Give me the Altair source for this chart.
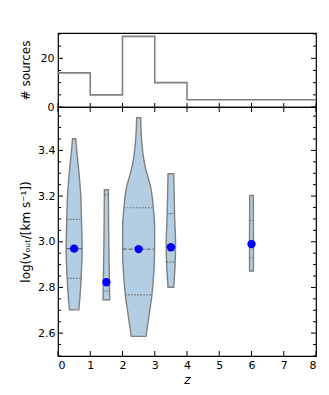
import altair as alt
import pandas as pd
import numpy as np

# ---- data ----
bin_edges = [0, 1, 2, 3, 4, 8]
counts = [14, 5, 29, 10, 3]

violin_z = [0.5, 1.5, 2.5, 3.5, 6.0]
violin_levels = [
    [2.702, 2.758, 2.845, 2.97, 3.095, 3.195, 3.27, 3.34, 3.40, 3.451],
    [2.746, 3.0, 3.228],
    [2.586, 2.67, 2.768, 2.875, 2.97, 3.064, 3.149, 3.24, 3.283, 3.327, 3.38, 3.429, 3.50, 3.543],
    [2.801, 2.869, 2.911, 2.985, 3.123, 3.298],
    [2.872, 3.0, 3.203],
]
violin_halfwidth = [
    [0.144, 0.181, 0.217, 0.248, 0.228, 0.208, 0.17, 0.124, 0.08, 0.051],
    [0.103, 0.075, 0.062],
    [0.227, 0.315, 0.413, 0.475, 0.496, 0.496, 0.455, 0.372, 0.29, 0.207, 0.14, 0.103, 0.07, 0.062],
    [0.088, 0.119, 0.134, 0.145, 0.114, 0.088],
    [0.06, 0.062, 0.055],
]
quart_low = [2.84, 2.784, 2.768, 2.911, 2.93]
quart_med = [2.97, 2.823, 2.968, 2.976, 2.99]
quart_high = [3.098, 3.206, 3.149, 3.123, 3.093]
dot_y = [2.97, 2.823, 2.968, 2.976, 2.99]

x_ticks = [0, 1, 2, 3, 4, 5, 6, 7, 8]
y_major = [2.6, 2.8, 3.0, 3.2, 3.4]
y_minor = [2.5, 2.55, 2.65, 2.7, 2.75, 2.85, 2.9, 2.95, 3.05, 3.1, 3.15, 3.25, 3.3, 3.35, 3.45, 3.5, 3.55]
h_major = [0, 20]
h_minor = [5, 10, 15, 25, 30]

W, H_TOP, H_BOT = 258, 74, 249
FILL = "#b3cee2"
EDGE = "#808080"
LINE = "#6e6e6e"

xs = alt.Scale(domain=[0, 8], nice=False, zero=False)
ys = alt.Scale(domain=[2.5, 3.59], nice=False, zero=False)
hs = alt.Scale(domain=[0, 30.4], nice=False, zero=False)

AX_COMMON = dict(ticks=False, tickSize=0, domain=False, grid=False)
x_top_axis = None
h_axis = alt.Axis(values=h_major, title="# sources", labelPadding=4, titlePadding=8, **AX_COMMON)
x_bot_axis = alt.Axis(values=x_ticks, format="d", title="z", labelPadding=3,
                      titleFontStyle="italic", titlePadding=4, **AX_COMMON)
y_axis = alt.Axis(values=y_major, format=".1f", title="log(vₒᵤₜ/[km s⁻¹])",
                  labelPadding=3, titlePadding=5, **AX_COMMON)

# ---- tables ----
hist_df = pd.DataFrame({"z": bin_edges, "n": counts + [counts[-1]]})

rows = []
for g, (zc, lv, hw) in enumerate(zip(violin_z, violin_levels, violin_halfwidth)):
    for yv, w in zip(lv, hw):
        rows.append({"g": g, "y": yv, "left": zc - w, "right": zc + w})
vdf = pd.DataFrame(rows).sort_values(["g", "y"]).reset_index(drop=True)

qrows = []
for g, zc in enumerate(violin_z):
    lv, hw = violin_levels[g], violin_halfwidth[g]
    for kind, q in (("q", quart_low[g]), ("m", quart_med[g]), ("q", quart_high[g])):
        w = float(np.interp(q, lv, hw))
        qrows.append({"kind": kind, "y": q, "left": zc - w, "right": zc + w})
qdf = pd.DataFrame(qrows)
dots_df = pd.DataFrame({"z": violin_z, "y": dot_y})


def xtick_rules(scale, axis, H, top, bottom, length=5):
    df = pd.DataFrame({"v": x_ticks})
    layers = []
    if bottom:
        layers.append(alt.Chart(df).mark_rule(color="black", strokeWidth=1).encode(
            x=alt.X("v:Q", scale=scale, axis=axis), y=alt.value(H), y2=alt.value(H - length)))
    if top:
        layers.append(alt.Chart(df).mark_rule(color="black", strokeWidth=1).encode(
            x=alt.X("v:Q", scale=scale, axis=axis), y=alt.value(0), y2=alt.value(length)))
    return layers


def ytick_rules(values, scale, axis, length):
    df = pd.DataFrame({"v": values})
    return [
        alt.Chart(df).mark_rule(color="black", strokeWidth=1).encode(
            y=alt.Y("v:Q", scale=scale, axis=axis), x=alt.value(0), x2=alt.value(length)),
        alt.Chart(df).mark_rule(color="black", strokeWidth=1).encode(
            y=alt.Y("v:Q", scale=scale, axis=axis), x=alt.value(W), x2=alt.value(W - length)),
    ]


# ---- top panel ----
hist = alt.Chart(hist_df).mark_line(interpolate="step-after", color=EDGE, strokeWidth=1.6).encode(
    x=alt.X("z:Q", scale=xs, axis=x_top_axis),
    y=alt.Y("n:Q", scale=hs, axis=h_axis),
)
top = alt.layer(
    hist,
    *xtick_rules(xs, x_top_axis, H_TOP, top=False, bottom=True, length=4),
    *ytick_rules(h_major, hs, h_axis, 5),
    *ytick_rules(h_minor, hs, h_axis, 3),
).properties(width=W, height=H_TOP)

# ---- bottom panel ----
violins = alt.Chart(vdf).mark_area(orient="horizontal", interpolate="monotone", fill=FILL,
                                   stroke=EDGE, strokeWidth=1.4, opacity=1).encode(
    y=alt.Y("y:Q", scale=ys, axis=y_axis),
    x=alt.X("left:Q", scale=xs, axis=x_bot_axis),
    x2="right:Q",
    detail="g:N",
)
qlines = alt.Chart(qdf[qdf.kind == "q"]).mark_rule(color=LINE, strokeWidth=1.2, strokeDash=[1.5, 1.5]).encode(
    y=alt.Y("y:Q", scale=ys, axis=y_axis), x=alt.X("left:Q", scale=xs, axis=x_bot_axis), x2="right:Q")
mlines = alt.Chart(qdf[qdf.kind == "m"]).mark_rule(color=LINE, strokeWidth=1.4, strokeDash=[4, 2]).encode(
    y=alt.Y("y:Q", scale=ys, axis=y_axis), x=alt.X("left:Q", scale=xs, axis=x_bot_axis), x2="right:Q")
dots = alt.Chart(dots_df).mark_circle(color="#0000ff", opacity=1, size=70).encode(
    x=alt.X("z:Q", scale=xs, axis=x_bot_axis), y=alt.Y("y:Q", scale=ys, axis=y_axis))

bottom = alt.layer(
    violins, qlines, mlines, dots,
    *xtick_rules(xs, x_bot_axis, H_BOT, top=True, bottom=True, length=5),
    *ytick_rules(y_major, ys, y_axis, 5),
    *ytick_rules(y_minor, ys, y_axis, 3),
).properties(width=W, height=H_BOT)

chart = alt.vconcat(top, bottom, spacing=0, bounds="flush").properties(
    padding={"left": 10, "top": 24, "right": 0, "bottom": 0}
).configure(font="DejaVu Sans").configure_view(
    stroke="black", strokeWidth=1.2
).configure_axis(
    labelFont="DejaVu Sans", titleFont="DejaVu Sans", labelFontSize=11, titleFontSize=12,
    titleFontWeight="normal", labelColor="black", titleColor="black"
)

chart.save("out.html", embed_options={"renderer": "svg", "actions": False})
